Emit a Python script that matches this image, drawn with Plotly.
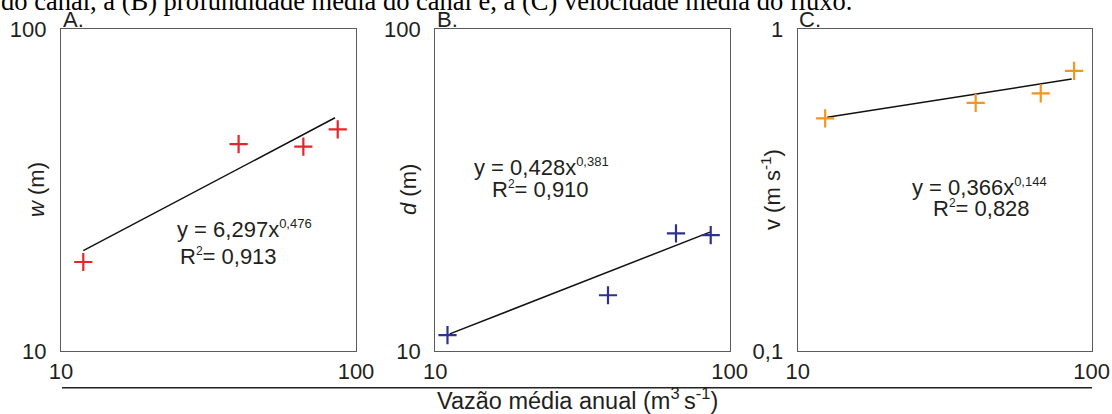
import plotly.graph_objects as go

# ---------------- data ----------------
discharge_a = [11.9, 40.0, 66.3, 86.7]
width_w = [18.9, 43.9, 43.1, 48.8]
trend_a_x = [11.9, 84.9]
trend_a_y = [20.5, 53.0]

discharge_b = [11.0, 38.6, 65.7, 86.2]
depth_d = [11.2, 14.9, 23.2, 22.9]
trend_b_x = [11.2, 85.7]
trend_b_y = [11.3, 23.4]

discharge_c = [12.4, 40.3, 67.1, 87.1]
velocity_v = [0.528, 0.590, 0.631, 0.741]
trend_c_x = [12.6, 85.5]
trend_c_y = [0.532, 0.699]

x_ticks = [10, 100]
x_ticktext = ["10", "100"]
wd_ticks = [10, 100]
wd_ticktext = ["10", "100"]
v_ticks = [0.1, 1]
v_ticktext = ["0,1", "1"]

eq_a = ["y = 6,297x<sup><span style='font-size:13px'>0,476</span></sup>",
        "R<sup><span style='font-size:12px'>2</span></sup>= 0,913"]
eq_b = ["y = 0,428x<sup><span style='font-size:13px'>0,381</span></sup>",
        "R<sup><span style='font-size:12px'>2</span></sup>= 0,910"]
eq_c = ["y = 0,366x<sup><span style='font-size:13px'>0,144</span></sup>",
        "R<sup><span style='font-size:12px'>2</span></sup>= 0,828"]

caption = "do canal, a (B) profundidade média do canal e, a (C) velocidade média do fluxo."
x_title = "Vazão média anual (m<sup>3 </sup>s<sup>-1</sup>)"

# ---------------- layout helpers ----------------
W, H = 1112, 414
def px(p):
    return p / W
def py(p):
    return 1 - p / H

FONT = "Liberation Sans, Arial, sans-serif"
TXT = "#231f20"
FRAME = "#5b5b5b"
RED, BLUE, ORANGE = "#e5252c", "#2e3192", "#f7941d"

fig = go.Figure()

panels = [
    (discharge_a, width_w, trend_a_x, trend_a_y, RED, "", ""),
    (discharge_b, depth_d, trend_b_x, trend_b_y, BLUE, "2", "2"),
    (discharge_c, velocity_v, trend_c_x, trend_c_y, ORANGE, "3", "3"),
]
for xs, ys, tx, ty, col, xa, ya in panels:
    fig.add_trace(go.Scatter(x=tx, y=ty, mode="lines", line=dict(color="#111111", width=1.5),
                             xaxis="x" + xa, yaxis="y" + ya, showlegend=False, hoverinfo="skip"))
    fig.add_trace(go.Scatter(x=xs, y=ys, mode="markers",
                             marker=dict(symbol="cross-thin", size=13, color=col,
                                         line=dict(color=col, width=2.2)),
                             xaxis="x" + xa, yaxis="y" + ya, showlegend=False))

x_domains = [(61, 356), (435.3, 729.7), (797.7, 1091.7)]
y_dom = [py(351), py(29)]

common = dict(type="log", showline=True, mirror=True, linecolor=FRAME, linewidth=1.3,
              showgrid=False, zeroline=False, ticks="", automargin=False,
              tickfont=dict(family=FONT, size=22, color=TXT))

layout = dict(
    width=W, height=H, margin=dict(l=0, r=0, t=0, b=0, autoexpand=False),
    paper_bgcolor="white", plot_bgcolor="white", showlegend=False,
)
for i, (x0, x1) in enumerate(x_domains):
    sfx = "" if i == 0 else str(i + 1)
    layout["xaxis" + sfx] = dict(common, domain=[px(x0), px(x1)], range=[1, 2],
                                 tickvals=x_ticks, ticktext=x_ticktext,
                                 anchor="y" + sfx, ticklabelstandoff=0)
    if i < 2:
        yr, tv, tt = [1, 2], wd_ticks, wd_ticktext
    else:
        yr, tv, tt = [-1, 0], v_ticks, v_ticktext
    layout["yaxis" + sfx] = dict(common, domain=y_dom, range=yr, tickvals=tv, ticktext=tt,
                                 anchor="x" + sfx, ticklabelstandoff=9)
fig.update_layout(**layout)

def ann(text, x, y, size=22, xanchor="left", yanchor="middle", angle=0, family=FONT, color=TXT):
    fig.add_annotation(text=text, x=px(x), y=py(y), xref="paper", yref="paper",
                       xanchor=xanchor, yanchor=yanchor, showarrow=False, textangle=angle,
                       font=dict(family=family, size=size, color=color))

# caption (cut at the top in the reference)
ann(caption, -1, 1, size=26.5, family="Liberation Serif, Times New Roman, serif", color="#000000")

# panel letters
ann("A.", 61, 20)
ann("B.", 435, 20)
ann("C.", 797, 20)

# y-axis titles
ann("<i>w</i> (m)", 36, 190, xanchor="center", angle=-90)
ann("<i>d</i> (m)", 408, 190, xanchor="center", angle=-90)
ann("v (m s<sup>-1</sup>)", 771, 190, xanchor="center", angle=-90)

# equations
ann(eq_a[0], 175, 229)
ann(eq_a[1], 178, 256)
ann(eq_b[0], 472, 167)
ann(eq_b[1], 490, 189)
ann(eq_c[0], 910, 187)
ann(eq_c[1], 931, 208)

# shared x title with rule
fig.add_shape(type="line", xref="paper", yref="paper", x0=px(62), x1=px(1092),
              y0=py(387.7), y1=py(387.7), line=dict(color="#222222", width=1.6))
ann(x_title, 577, 399, size=23.5, xanchor="center")

fig.write_html("out.html", config={"displayModeBar": False},
               post_script="document.body.style.margin='0px';document.body.style.overflow='hidden';")
